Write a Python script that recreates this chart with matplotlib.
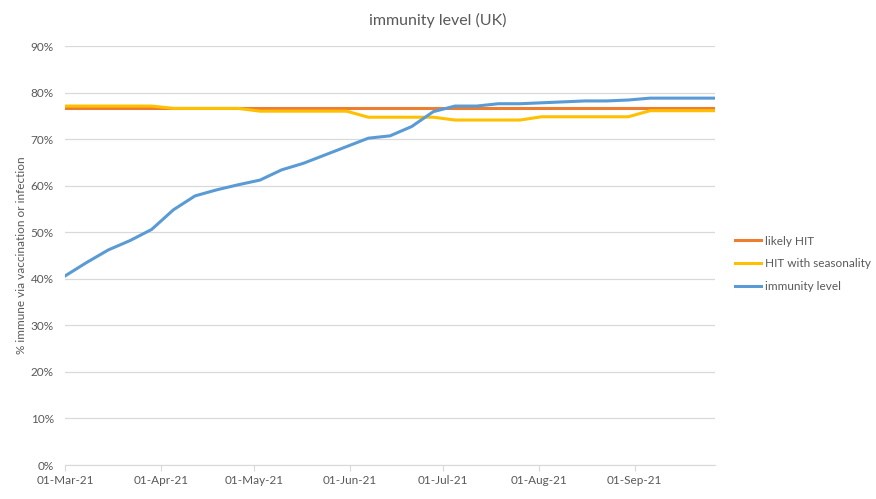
import pandas as pd
import matplotlib.pyplot as plt
import matplotlib.dates as mdates
from matplotlib.ticker import PercentFormatter

plt.rcParams['font.family'] = ['Lato', 'DejaVu Sans']

# weekly data points
dates = pd.date_range('2021-03-01', periods=31, freq='7D')

likely_hit = [76.7] * 31

hit_seasonality = [77.1, 77.1, 77.1, 77.1, 77.1,
                   76.6, 76.6, 76.6, 76.6,
                   76.0, 76.0, 76.0, 76.0, 76.0,
                   74.7, 74.7, 74.7, 74.7,
                   74.1, 74.1, 74.1, 74.1,
                   74.8, 74.8, 74.8, 74.8, 74.8,
                   76.1, 76.1, 76.1, 76.1]

immunity = [40.6, 43.5, 46.2, 48.2, 50.6, 54.8, 57.8, 59.1, 60.2, 61.2,
            63.4, 64.8, 66.6, 68.4, 70.2, 70.7, 72.7, 75.9, 77.1, 77.1,
            77.6, 77.6, 77.8, 78.0, 78.2, 78.2, 78.4, 78.8, 78.8, 78.8, 78.8]

text_col = '#595959'
grid_col = '#D9D9D9'

fig = plt.figure(figsize=(8.76, 4.99), dpi=100)
ax = fig.add_axes([65 / 876, 34 / 499, 650 / 876, 419 / 499])

ax.plot(dates, likely_hit, color='#ED7D31', lw=2.2, label='likely HIT')
ax.plot(dates, hit_seasonality, color='#FFC000', lw=2.2, label='HIT with seasonality')
ax.plot(dates, immunity, color='#5B9BD5', lw=2.2, label='immunity level')

ax.set_ylim(0, 90)
ax.set_yticks(range(0, 91, 10))
ax.yaxis.set_major_formatter(PercentFormatter(decimals=0))
ax.set_xlim(dates[0], dates[-1])
ax.xaxis.set_major_locator(mdates.MonthLocator())
ax.xaxis.set_major_formatter(mdates.DateFormatter('%d-%b-%y'))

ax.grid(axis='y', color=grid_col, lw=0.9)
ax.set_axisbelow(True)
for side in ['top', 'right', 'left']:
    ax.spines[side].set_visible(False)
ax.spines['bottom'].set_color(grid_col)
ax.tick_params(axis='y', length=0, labelsize=8.5, labelcolor=text_col, pad=8)
ax.tick_params(axis='x', length=4, color=grid_col, labelsize=8.5, labelcolor=text_col)

ax.set_ylabel('% immune via vaccination or infection', fontsize=8.5, color=text_col, labelpad=3)
fig.suptitle('immunity level (UK)', fontsize=11.5, color=text_col, y=0.975)

ax.legend(loc='center left', bbox_to_anchor=(1.015, 0.48), frameon=False,
          fontsize=8.5, labelcolor=text_col, handlelength=2.2, handletextpad=0.3,
          labelspacing=1.0)

fig.savefig('out.png', dpi=100)
